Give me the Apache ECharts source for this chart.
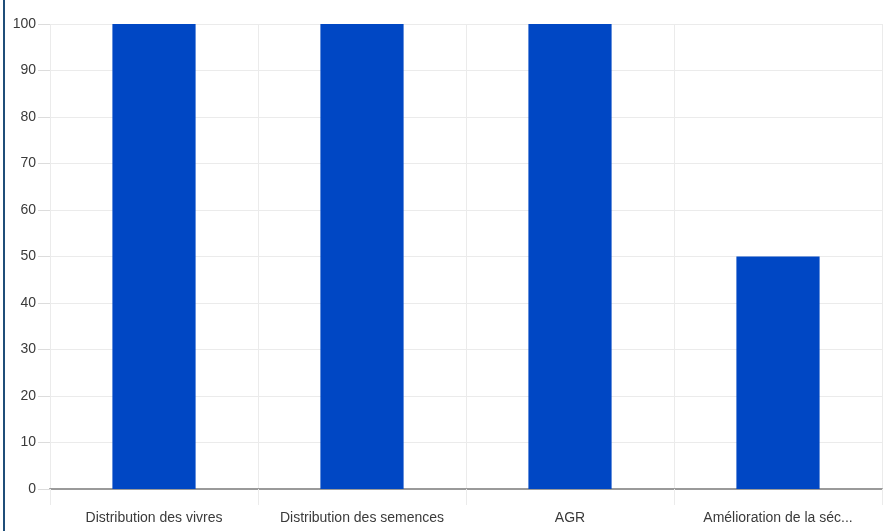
<!DOCTYPE html>
<html>
<head>
<meta charset="utf-8">
<script src="https://cdn.jsdelivr.net/npm/echarts@6/dist/echarts.min.js"></script>
<style>
  html, body { margin: 0; padding: 0; background: #fff; }
  #chart { width: 886px; height: 531px; }
</style>
</head>
<body>
<div id="chart"></div>
<script>
// Activities and their completion rate (%)
const categories = ['Distribution des vivres', 'Distribution des semences', 'AGR', 'Amélioration de la séc...'];
const values = [100, 100, 100, 50];
const yTicks = { min: 0, max: 100, interval: 10 };

const font = '"Liberation Sans Narrow", "Liberation Sans", Arial, sans-serif';
const chart = echarts.init(document.getElementById('chart'), null, { renderer: 'canvas' });

chart.setOption({
  animation: false,
  backgroundColor: '#ffffff',
  grid: { left: 50, right: 4, top: 24, bottom: 42, containLabel: false },
  graphic: [{
    type: 'rect',
    shape: { x: 3, y: 0, width: 2, height: 531 },
    style: { fill: '#1f4e79' }
  }],
  xAxis: {
    type: 'category',
    data: categories,
    boundaryGap: true,
    axisLine: { show: true, lineStyle: { color: '#9a9a9a', width: 2 } },
    axisTick: { show: true, interval: 0, length: 16, lineStyle: { color: '#ebebeb' } },
    axisLabel: { interval: 0, color: '#3a3a3a', fontFamily: font, fontSize: 14, margin: 22 },
    splitLine: { show: true, interval: 0, lineStyle: { color: '#ebebeb' } }
  },
  yAxis: {
    type: 'value',
    min: yTicks.min,
    max: yTicks.max,
    interval: yTicks.interval,
    axisLine: { show: false },
    axisTick: { show: true, length: 12, lineStyle: { color: '#dcdcdc' } },
    axisLabel: { color: '#3a3a3a', fontFamily: font, fontSize: 14, margin: 14 },
    splitLine: { show: true, lineStyle: { color: '#ebebeb' } }
  },
  series: [{
    type: 'bar',
    data: values,
    barWidth: '40%',
    itemStyle: { color: '#0047c4' }
  }]
});
</script>
</body>
</html>
